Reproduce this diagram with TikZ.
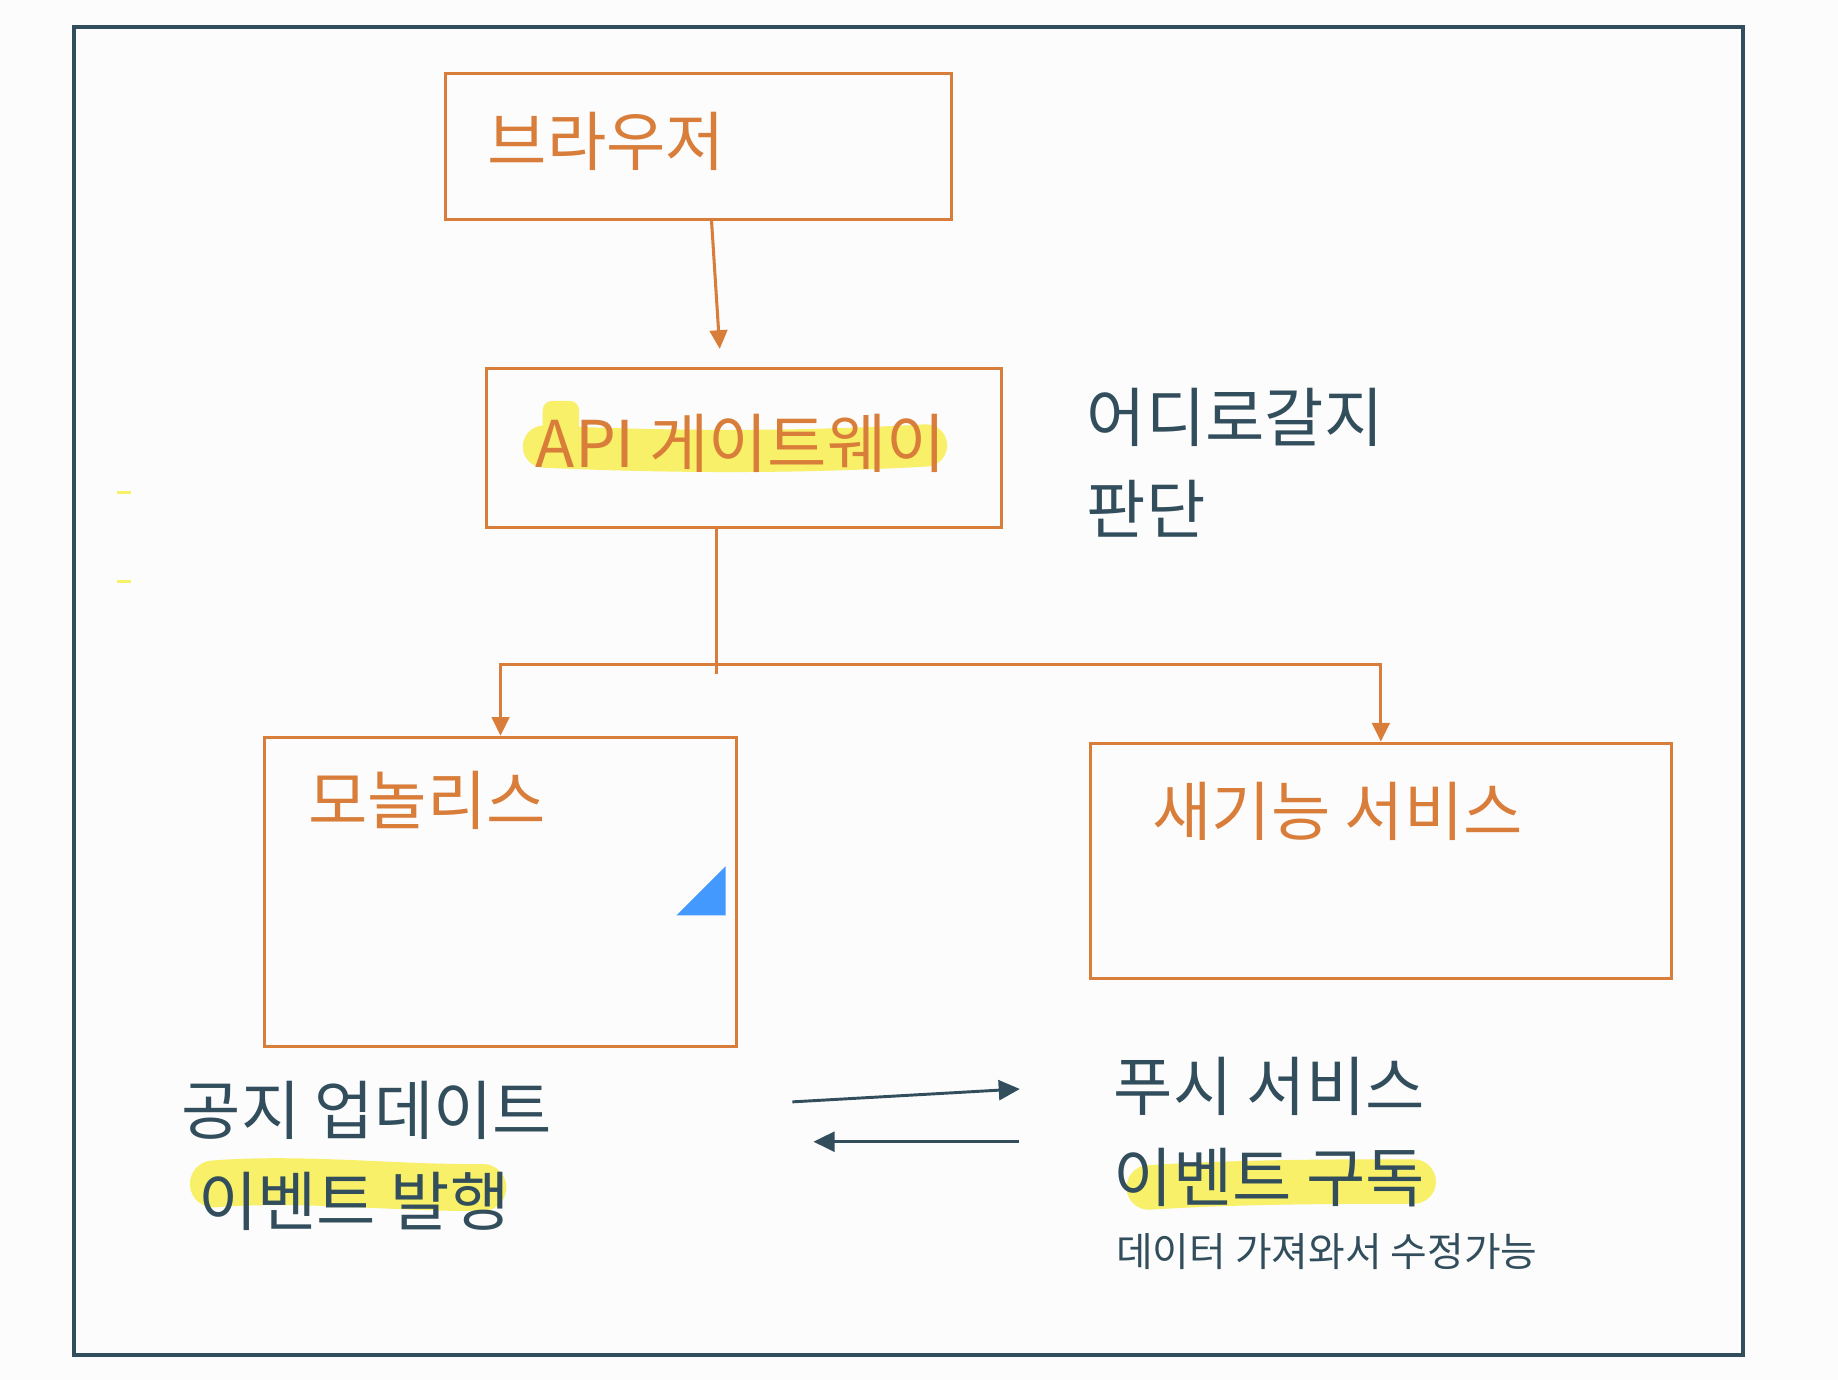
\documentclass[tikz,border=0pt]{standalone}
\usepackage{fontspec}
\setmainfont{Noto Sans CJK KR}
\usetikzlibrary{arrows.meta}
\definecolor{boxorange}{RGB}{217,126,58}
\definecolor{slate}{RGB}{50,78,92}
\definecolor{marker}{RGB}{248,240,104}
\definecolor{tagblue}{RGB}{68,153,255}
\definecolor{paper}{RGB}{252,252,252}
\begin{document}
\begin{tikzpicture}[x=1pt,y=-1pt,
  box/.style={draw=boxorange,line width=2.6pt,inner sep=0pt},
  lbl/.style={anchor=west,inner sep=0pt,font=\fontsize{55}{64}\selectfont},
  boxlbl/.style={lbl,text=boxorange},
  note/.style={lbl,text=slate},
  small/.style={note,font=\fontsize{34}{40}\selectfont},
  hl/.style={draw=marker,line cap=round},
  orline/.style={draw=boxorange,line width=2.6pt},
  orarrow/.style={orline,-{Triangle[length=16pt,width=15pt]}},
  slarrow/.style={draw=slate,line width=2.5pt,-{Triangle[length=18pt,width=17pt]}}]
\fill[paper] (0,0) rectangle (1568,1177); \useasboundingbox (0,0) rectangle (1568,1177);
\node[draw=slate,line width=3pt,minimum width=1424pt,minimum height=1133pt] (frame) at (775,589.5) {};
\draw[marker,line width=3pt] (100,420)--(112,420); \draw[marker,line width=3pt] (100,496)--(112,496);
\node[box,minimum width=432pt,minimum height=124pt] (browser) at (596,125) {};
\node[box,minimum width=439pt,minimum height=136pt] (gateway) at (634.5,382) {};
\node[box,minimum width=402pt,minimum height=264pt] (monolith) at (427,761) {};
\node[box,minimum width=496pt,minimum height=201pt] (newsvc) at (1178,734.5) {};
\fill[marker,rounded corners=8pt] (463,342) rectangle (494,372); \draw[hl,line width=36pt] (464,381) .. controls (600,387) and (700,385) .. (790,380);
\draw[hl,line width=40pt] (182,1010) .. controls (260,1004) and (340,1014) .. (412,1013);
\draw[hl,line width=38pt] (980,1013) .. controls (1060,1008) and (1140,1008) .. (1206,1008);
\node[boxlbl] (browserlbl) at (416,121) {브라우저};
\node[boxlbl] (gatewaylbl) at (457,378) {API 게이트웨이};
\node[boxlbl] (monolithlbl) at (263,683) {모놀리스};
\node[boxlbl] (newsvclbl) at (983,692) {새기능 서비스};
\node[note] (route) at (927,356) {어디로갈지}; \node[note] (judge) at (927,434) {판단};
\node[note] (notice) at (155,947) {공지 업데이트}; \node[note] (publish) at (169,1025) {이벤트 발행};
\node[note] (push) at (950,927) {푸시 서비스}; \node[note] (subscribe) at (950,1005) {이벤트 구독};
\node[small] (fetch) at (952,1068) {데이터 가져와서 수정가능};
\fill[tagblue] (577,781) -- (619,781) -- (619,739) -- cycle;
\draw[orarrow] ([xshift=11pt]browser.south) -- ([xshift=-20.5pt,yshift=15pt]gateway.north);
\coordinate (split) at (611,567);
\draw[orline] ([xshift=-23.5pt]gateway.south) -- ([yshift=-8pt]split);
\draw[orarrow] (split) -| (monolith.north); \draw[orarrow] (split) -| (newsvc.north);
\coordinate (pubout) at (676,940); \coordinate (subin) at (870,929); \draw[slarrow] (pubout) -- (subin);
\coordinate (subout) at (869,974); \coordinate (pubin) at (694,974); \draw[slarrow] (subout) -- (pubin);
\end{tikzpicture}
\end{document}
